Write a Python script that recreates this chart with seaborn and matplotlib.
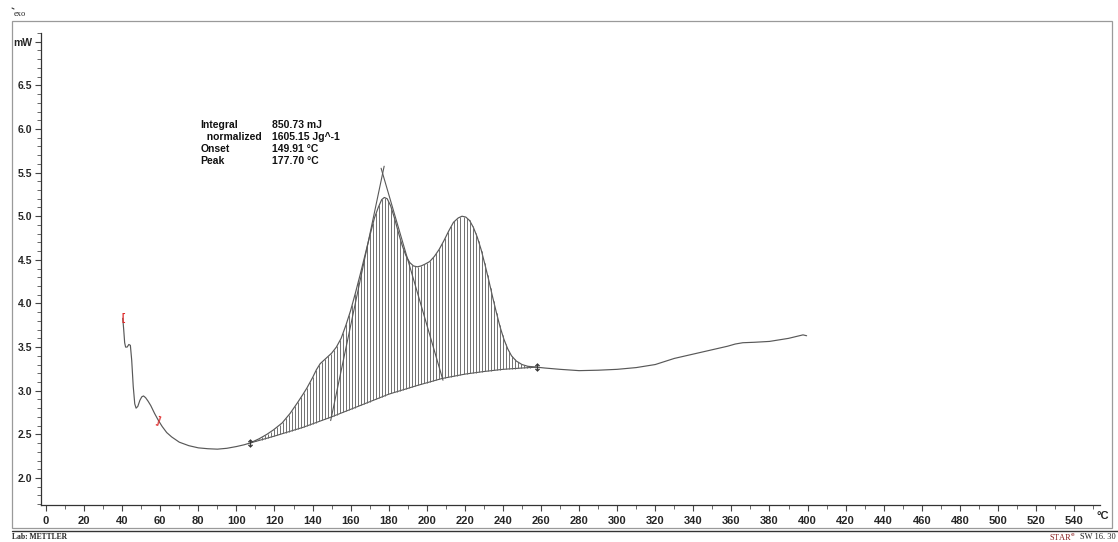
import numpy as np
import pandas as pd
import matplotlib
matplotlib.use("Agg")
import matplotlib.pyplot as plt
from matplotlib.lines import Line2D
from matplotlib.ticker import MultipleLocator
import seaborn as sns

# DSC heat-flow curve (temperature in °C, heat flow in mW)
temp_c = [40.3, 40.8, 41.3, 41.8, 42.6, 43.5, 44.3, 45.0, 45.8, 46.6, 47.3, 48.2,
          49.3, 50.3, 51.2, 52.3, 53.6, 55.0, 57.0, 59.0, 61.0, 63.4, 66.0, 70.0,
          75.0, 80.0, 85.0, 90.0, 95.0, 100.0, 104.0, 107.1, 112.0, 116.0, 119.4,
          124.0, 128.2, 132.0, 135.0, 137.0, 140.0, 142.0, 144.0, 147.0, 150.0,
          152.5, 155.0, 157.5, 160.0, 162.5, 165.0, 167.5, 170.0, 172.5, 174.5,
          176.3, 177.7, 179.2, 181.0, 183.0, 185.0, 187.0, 189.0, 191.0, 193.0,
          195.0, 197.0, 199.0, 201.5, 204.0, 206.5, 209.0, 211.5, 214.0, 216.5,
          218.5, 220.5, 222.5, 224.5, 226.5, 228.5, 230.5, 232.5, 234.5, 236.5,
          238.5, 240.5, 242.5, 244.5, 247.0, 250.0, 253.0, 257.7, 262.0, 270.0,
          280.0, 290.0, 300.0, 310.0, 320.0, 330.0, 340.0, 350.0, 358.0, 362.0,
          366.0, 372.0, 380.0, 390.0, 397.6, 399.5]
heat_mw = [3.83, 3.70, 3.55, 3.50, 3.50, 3.53, 3.52, 3.35, 3.05, 2.85, 2.80, 2.82,
           2.89, 2.93, 2.94, 2.92, 2.88, 2.83, 2.74, 2.66, 2.59, 2.52, 2.47, 2.41,
           2.37, 2.345, 2.335, 2.33, 2.34, 2.36, 2.38, 2.40, 2.45, 2.50, 2.55,
           2.63, 2.74, 2.86, 2.96, 3.03, 3.15, 3.24, 3.31, 3.37, 3.43,
           3.50, 3.60, 3.75, 3.92, 4.12, 4.33, 4.55, 4.77, 4.98, 5.10,
           5.19, 5.215, 5.20, 5.12, 4.98, 4.82, 4.67, 4.55, 4.47, 4.43,
           4.42, 4.43, 4.45, 4.48, 4.54, 4.62, 4.72, 4.83, 4.93, 4.98,
           5.00, 4.99, 4.95, 4.87, 4.76, 4.62, 4.45, 4.27, 4.08, 3.90,
           3.73, 3.59, 3.48, 3.40, 3.34, 3.30, 3.28, 3.27, 3.26, 3.245,
           3.23, 3.235, 3.245, 3.265, 3.30, 3.37, 3.42, 3.47, 3.51, 3.535,
           3.55, 3.555, 3.565, 3.60, 3.64, 3.63]

# Integration baseline between the two limits
base_t = [107.1, 120.0, 135.0, 150.0, 165.0, 180.0, 195.0, 208.0, 220.0, 230.0,
          240.0, 250.0, 257.7]
base_mw = [2.40, 2.48, 2.58, 2.70, 2.83, 2.96, 3.06, 3.14, 3.19, 3.22,
           3.245, 3.26, 3.27]

# Evaluation results
onset_t = 149.91
peak_t = 177.70
apex_t, apex_mw = 176.8, 5.49          # intersection of the two tangents
right_tan_end = (208.5, 3.12)
eval_labels = ["Integral", "  normalized", "Onset", "Peak"]
eval_values = ["850.73 mJ", "1605.15 Jg^-1", "149.91 °C", "177.70 °C"]

x_ticks = list(range(0, 541, 20))
y_ticks = [2.0, 2.5, 3.0, 3.5, 4.0, 4.5, 5.0, 5.5, 6.0, 6.5, 7.0]
y_labels = ["2.0", "2.5", "3.0", "3.5", "4.0", "4.5", "5.0", "5.5", "6.0", "6.5", "mW"]

sns.set_style("white")
plt.rcParams["font.family"] = ["Liberation Sans", "DejaVu Sans"]

W, H = 1118, 542
fig = plt.figure(figsize=(W / 100, H / 100), dpi=100)
fig.patch.set_facecolor("white")


def px(x, y):
    return x / W, 1 - y / H


ax_left, ax_right, ax_top, ax_bot = 40.7, 1100, 33, 505
ax = fig.add_axes([ax_left / W, 1 - ax_bot / H, (ax_right - ax_left) / W,
                   (ax_bot - ax_top) / H])
ax.set_facecolor("white")

line_col = "#585858"
df = pd.DataFrame({"T": temp_c, "P": heat_mw})
sns.lineplot(data=df, x="T", y="P", ax=ax, color=line_col, lw=0.85,
             estimator=None, sort=False)
sns.lineplot(x=base_t, y=base_mw, ax=ax, color=line_col, lw=0.8,
             estimator=None, sort=False)

# Vertical hatching of the integrated area
hatch_t = np.arange(base_t[0], base_t[-1], 1.58)
upper = np.interp(hatch_t, temp_c, heat_mw)
lower = np.interp(hatch_t, base_t, base_mw)
ax.vlines(hatch_t, lower, upper, color="#666666", lw=0.65)

# Tangents used for onset and peak evaluation
onset_mw = np.interp(onset_t, base_t, base_mw)
s_left = (apex_mw - onset_mw) / (apex_t - onset_t)
lt = np.array([onset_t - 0.4, apex_t + 0.8])
ax.plot(lt, onset_mw + s_left * (lt - onset_t), color=line_col, lw=0.8)
s_right = (apex_mw - right_tan_end[1]) / (apex_t - right_tan_end[0])
rt = np.array([apex_t - 0.8, right_tan_end[0]])
ax.plot(rt, apex_mw + s_right * (rt - apex_t), color=line_col, lw=0.8)

# Integration limit markers
for t_lim in (base_t[0], base_t[-1]):
    y_lim = np.interp(t_lim, temp_c, heat_mw)
    ax.plot([t_lim], [y_lim], marker="$\\updownarrow$", color="#333333",
            markersize=5.5, mew=0.3)

# Red range brackets
ax.text(temp_c[0], heat_mw[0], "[", color="#e02a2a", fontsize=7,
        fontweight="bold", ha="center", va="center")
ax.text(59.0, np.interp(59.0, temp_c, heat_mw), "]", color="#e02a2a",
        fontsize=7, fontweight="bold", ha="center", va="center", rotation=-20)

ax.set_xlim(-2.8, 553.6)
ax.set_ylim(1.69, 7.10)
ax.set_xticks(x_ticks)
ax.set_xticklabels([str(v) for v in x_ticks], fontsize=8, fontweight="bold")
ax.xaxis.set_minor_locator(MultipleLocator(10))
ax.set_yticks(y_ticks)
ax.set_yticklabels(y_labels, fontsize=7.5, fontweight="bold")
ax.yaxis.set_minor_locator(MultipleLocator(0.1))
ax.tick_params(axis="both", which="major", direction="out", length=4,
               width=0.8, color="#444444", pad=2, left=True, bottom=True)
ax.tick_params(axis="both", which="minor", direction="out", length=3,
               width=0.7, color="#666666", left=True, bottom=True)
ax.tick_params(axis="x", pad=4)
ax.set_xlabel("")
ax.set_ylabel("")
for side in ("top", "right"):
    ax.spines[side].set_visible(False)
for side in ("left", "bottom"):
    ax.spines[side].set_color("#333333")
    ax.spines[side].set_linewidth(0.9)

# Evaluation text block
row_y = [125, 137, 149, 161]
for lab, val, yy in zip(eval_labels, eval_values, row_y):
    fig.text(*px(200.7, yy), lab, fontsize=7.5, fontweight="bold",
             ha="left", va="center", color="#111111")
    fig.text(*px(271.7, yy), val, fontsize=7.5, fontweight="bold",
             ha="left", va="center", color="#111111")

fig.text(*px(1103, 516), "°C", fontsize=8, fontweight="bold",
         ha="center", va="center")

# Page frame and footer
fig.add_artist(plt.Rectangle(px(12, 528), (1112 - 12) / W, (528 - 20.7) / H,
                             transform=fig.transFigure, fill=False,
                             edgecolor="#9a9a9a", lw=0.9))
fig.add_artist(Line2D([12 / W, 1118 / W], [1 - 530.5 / H] * 2,
                      transform=fig.transFigure, color="#333333", lw=1.0))
fig.add_artist(Line2D([12 / W, 14 / W], [1 - 8 / H, 1 - 9 / H],
                      transform=fig.transFigure, color="#333333", lw=0.8))
serif = ["Liberation Serif", "DejaVu Serif"]
fig.text(*px(14, 14), "exo", fontsize=6, family=serif, ha="left",
         va="center", color="#222222")
fig.text(*px(12, 537), "Lab: METTLER", fontsize=5.5, family=serif,
         fontweight="bold", ha="left", va="center", color="#222222")
fig.text(*px(1116, 537), "SW 16. 30", fontsize=6, family=serif,
         ha="right", va="center", color="#222222")
fig.text(*px(1076, 537), "STAR$^\\mathrm{e}$", fontsize=6, family=serif,
         ha="right", va="center", color="#8a2222")

fig.savefig("out.png", dpi=100, facecolor="white")
